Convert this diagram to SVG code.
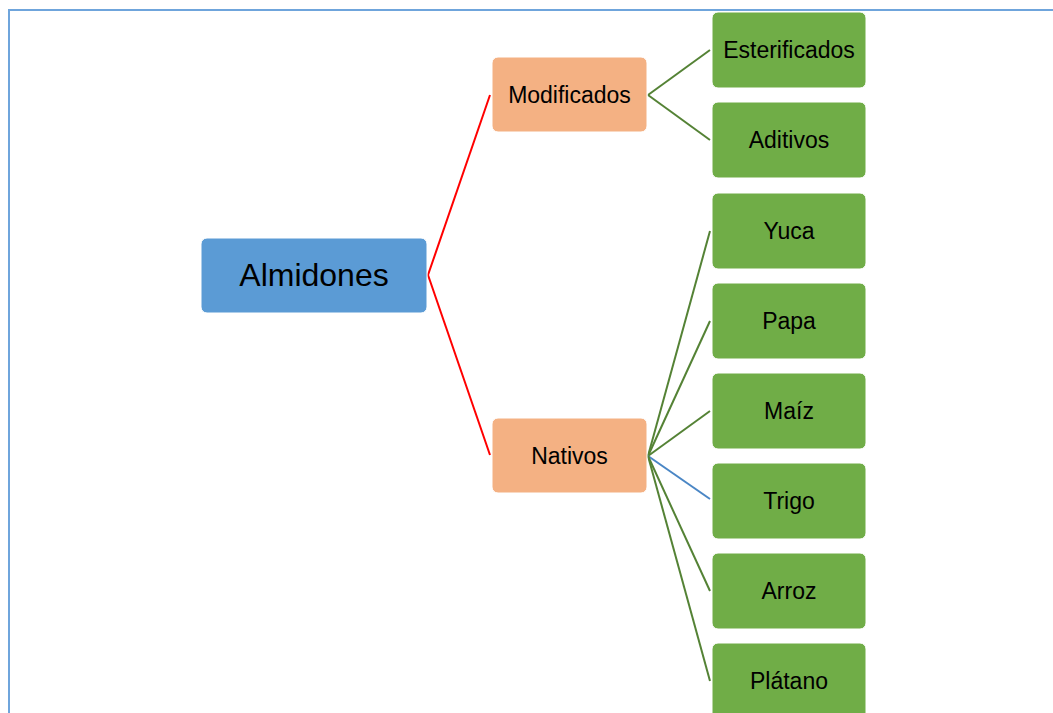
<svg xmlns="http://www.w3.org/2000/svg" width="1053" height="713" viewBox="0 0 1053 713">
<style>
.frame{fill:none;stroke:#6FA5DC;stroke-width:2}
.box{stroke:#ffffff;stroke-width:1}
.root{fill:#5B9BD5}
.mid{fill:#F4B183}
.leaf{fill:#70AD47}
text{font-family:"Liberation Sans",Arial,sans-serif;fill:#000;text-anchor:middle}
.t{font-size:23px}
.tr{font-size:32px}
.c{fill:none;stroke-width:2}
.red{stroke:#FF0000}
.grn{stroke:#548235}
.blu{stroke:#4A86C5}
</style>
<rect width="1053" height="713" fill="#ffffff"/>
<path class="frame" d="M9,713 V10 H1053"/>
<g id="connectors">
<line class="c red" x1="428" y1="275" x2="490" y2="95"/>
<line class="c red" x1="428" y1="275" x2="490" y2="455"/>
<line class="c grn" x1="648" y1="95" x2="710" y2="50"/>
<line class="c grn" x1="648" y1="95" x2="710" y2="140"/>
<line class="c grn" x1="648" y1="456" x2="710" y2="231"/>
<line class="c grn" x1="648" y1="456" x2="710" y2="321"/>
<line class="c grn" x1="648" y1="456" x2="710" y2="411"/>
<line class="c blu" x1="648" y1="456" x2="710" y2="499"/>
<line class="c grn" x1="648" y1="456" x2="710" y2="591"/>
<line class="c grn" x1="648" y1="456" x2="710" y2="681"/>
</g>
<g id="almidones"><rect class="box root" x="201" y="238" width="226" height="75" rx="6"/><text class="tr" x="314" y="286">Almidones</text></g>
<g id="modificados"><rect class="box mid" x="492" y="57" width="155" height="75" rx="6"/><text class="t" x="569.5" y="103">Modificados</text></g>
<g id="nativos"><rect class="box mid" x="492" y="418" width="155" height="75" rx="6"/><text class="t" x="569.5" y="464">Nativos</text></g>
<g id="esterificados"><rect class="box leaf" x="712" y="12" width="154" height="76" rx="6"/><text class="t" x="789" y="58">Esterificados</text></g>
<g id="aditivos"><rect class="box leaf" x="712" y="102" width="154" height="76" rx="6"/><text class="t" x="789" y="148">Aditivos</text></g>
<g id="yuca"><rect class="box leaf" x="712" y="193" width="154" height="76" rx="6"/><text class="t" x="789" y="239">Yuca</text></g>
<g id="papa"><rect class="box leaf" x="712" y="283" width="154" height="76" rx="6"/><text class="t" x="789" y="329">Papa</text></g>
<g id="maiz"><rect class="box leaf" x="712" y="373" width="154" height="76" rx="6"/><text class="t" x="789" y="419">Maíz</text></g>
<g id="trigo"><rect class="box leaf" x="712" y="463" width="154" height="76" rx="6"/><text class="t" x="789" y="509">Trigo</text></g>
<g id="arroz"><rect class="box leaf" x="712" y="553" width="154" height="76" rx="6"/><text class="t" x="789" y="599">Arroz</text></g>
<g id="platano"><rect class="box leaf" x="712" y="643" width="154" height="76" rx="6"/><text class="t" x="789" y="689">Plátano</text></g>
</svg>
